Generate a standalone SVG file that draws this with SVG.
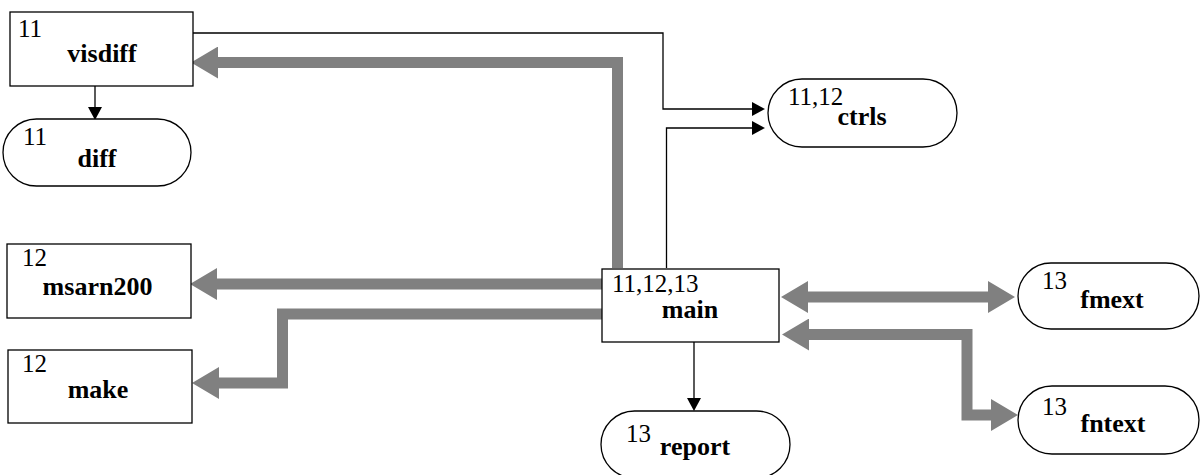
<svg xmlns="http://www.w3.org/2000/svg" width="1201" height="475" viewBox="0 0 1201 475">
<style>
.box{fill:#fff;stroke:#000;stroke-width:1.3}
.num{font-size:25px}
.name{font-size:26px;font-weight:bold;text-anchor:middle}
.thin{fill:none;stroke:#000;stroke-width:1.3}
.thick{fill:none;stroke:#808080;stroke-width:11}
</style>
<defs>
<marker id="ah" viewBox="0 -7 13 14" markerWidth="13" markerHeight="14" refX="0" refY="0" markerUnits="userSpaceOnUse" orient="auto"><path d="M0,-7 L13,0 L0,7 z" fill="#000"/></marker>
<marker id="gh" viewBox="0 -16 27 32" markerWidth="27" markerHeight="32" refX="0" refY="0" markerUnits="userSpaceOnUse" orient="auto-start-reverse"><path d="M0,-16 L27,0 L0,16 z" fill="#808080"/></marker>
</defs>
<g id="connectors">
<path class="thin" d="M193,33 H663 V109 H752" marker-end="url(#ah)"/>
<path class="thin" d="M666.5,268 V128 H752" marker-end="url(#ah)"/>
<path class="thin" d="M95,86 V107" marker-end="url(#ah)"/>
<path class="thin" d="M694,342 V398" marker-end="url(#ah)"/>
<path class="thick" d="M617.5,268 V62.5 H218" marker-end="url(#gh)"/>
<path class="thick" d="M604,284 H217" marker-end="url(#gh)"/>
<path class="thick" d="M604,314 H282.5 V383 H219" marker-end="url(#gh)"/>
<path class="thick" d="M808,297 H988" marker-start="url(#gh)" marker-end="url(#gh)"/>
<path class="thick" d="M809,334.5 H967 V415 H991" marker-start="url(#gh)" marker-end="url(#gh)"/>
</g>
<g font-family="Liberation Serif, Times New Roman, serif" fill="#000">
<g id="visdiff"><rect class="box" x="10" y="12" width="183" height="74"/><text class="num" x="18" y="37">11</text><text class="name" x="102" y="62">visdiff</text></g>
<g id="diff"><rect class="box" x="3" y="119" width="188" height="67" rx="33.5"/><text class="num" x="23" y="145">11</text><text class="name" x="97" y="167">diff</text></g>
<g id="ctrls"><rect class="box" x="768" y="79" width="189" height="68" rx="34"/><text class="num" x="788" y="105">11,12</text><text class="name" x="862" y="125">ctrls</text></g>
<g id="msarn200"><rect class="box" x="7" y="244" width="184" height="74"/><text class="num" x="22" y="266">12</text><text class="name" x="97.5" y="295">msarn200</text></g>
<g id="make"><rect class="box" x="8" y="350" width="184" height="73"/><text class="num" x="22" y="372">12</text><text class="name" x="98" y="398">make</text></g>
<g id="main"><rect class="box" x="602" y="269" width="177" height="73"/><text class="num" x="612" y="292">11,12,13</text><text class="name" x="690" y="318">main</text></g>
<g id="report"><rect class="box" x="601" y="411" width="189" height="67" rx="33.5"/><text class="num" x="626" y="442">13</text><text class="name" x="695" y="455">report</text></g>
<g id="fmext"><rect class="box" x="1018" y="263" width="181" height="66" rx="33"/><text class="num" x="1042" y="289">13</text><text class="name" x="1112" y="308">fmext</text></g>
<g id="fntext"><rect class="box" x="1018" y="386" width="181" height="68" rx="34"/><text class="num" x="1042" y="415">13</text><text class="name" x="1113" y="432">fntext</text></g>
</g>
</svg>
